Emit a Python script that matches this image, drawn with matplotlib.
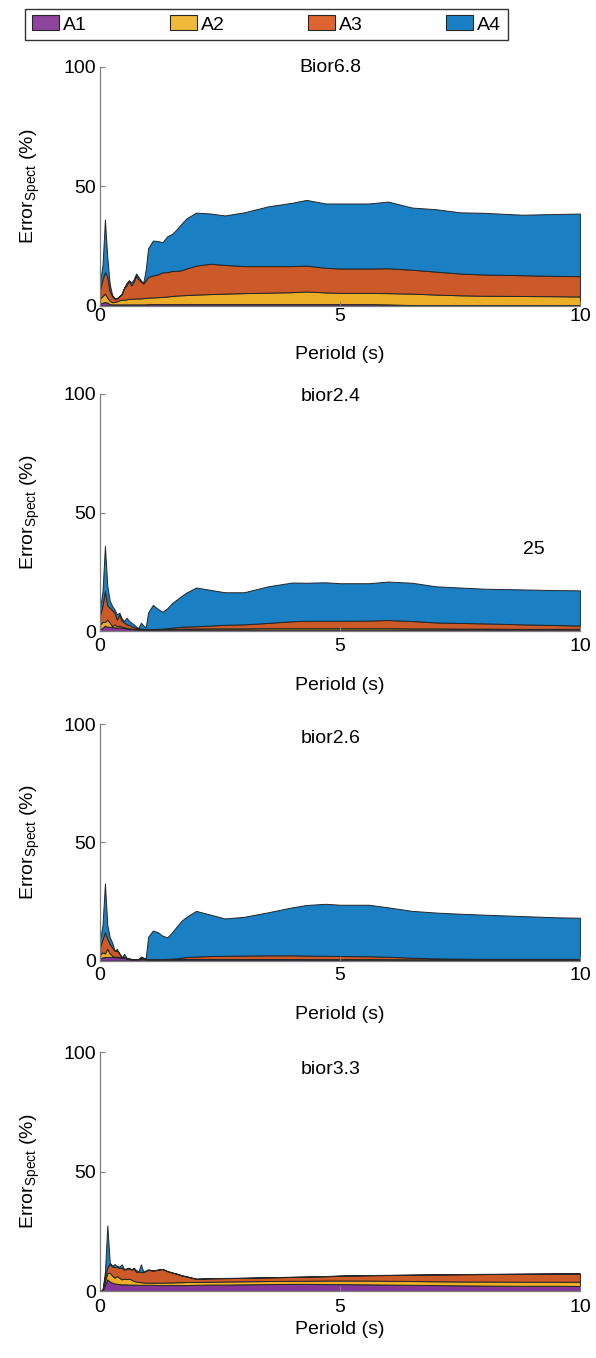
import matplotlib
matplotlib.use('Agg')
import matplotlib.pyplot as plt
from matplotlib.patches import Patch
import numpy as np

plt.rcParams['font.family'] = ['Liberation Sans', 'DejaVu Sans']
plt.rcParams['mathtext.fontset'] = 'custom'
plt.rcParams['mathtext.rm'] = 'Liberation Sans'
plt.rcParams['mathtext.it'] = 'Liberation Sans:italic'

# period axis (s)
period = [0.0, 0.05, 0.1, 0.15, 0.2, 0.25, 0.3, 0.35, 0.4, 0.45,
          0.5, 0.55, 0.6, 0.65, 0.7, 0.75, 0.8, 0.85, 0.9, 0.95,
          1.0, 1.1, 1.2, 1.3, 1.4, 1.5, 1.6, 1.7, 1.8, 2.0,
          2.3, 2.6, 3.0, 3.5, 4.0, 4.3, 4.7, 5.0, 5.6, 6.0,
          6.5, 7.0, 7.5, 8.0, 8.8, 9.5, 10.0]

# upper edge of each stacked band (cumulative %)
# --- Bior6.8
b68_A1 = [0.8, 1.2, 1.5, 1.2, 0.6, 0.5, 0.5, 0.5, 0.5, 0.5,
          0.5, 0.5, 0.5, 0.5, 0.5, 0.5, 0.5, 0.5, 0.5, 0.5,
          0.6, 0.6, 0.6, 0.6, 0.6, 0.6, 0.6, 0.6, 0.6, 0.6,
          0.6, 0.6, 0.6, 0.6, 0.6, 0.6, 0.6, 0.6, 0.6, 0.5,
          0.2, 0.2, 0.2, 0.2, 0.2, 0.2, 0.2]
b68_A2 = [3, 4, 5, 3.3, 2, 1.4, 1.5, 1.8, 2.2, 2.4,
          2.5, 2.6, 2.8, 2.8, 2.9, 3, 3, 3, 3.1, 3.2,
          3.3, 3.4, 3.5, 3.6, 3.8, 4, 4.2, 4.3, 4.4, 4.6,
          4.8, 5, 5.2, 5.4, 5.6, 5.9, 5.5, 5.3, 5.3, 5.2,
          5, 4.6, 4.3, 4.1, 4, 3.9, 3.8]
b68_A3 = [7, 11, 14, 12, 6, 4, 2.8, 3, 3.8, 4.8,
          7.4, 8.5, 10.4, 8.4, 10, 12.6, 11, 10, 9.2, 10.5,
          12, 12.6, 13, 13.9, 14, 14.5, 14.5, 14.8, 15.5, 16.7,
          17.5, 17, 16.5, 16.5, 16.5, 16.7, 15.8, 15.5, 15.5, 15.6,
          15, 14.2, 13.4, 13, 12.7, 12.4, 12.3]
b68_A4 = [10, 17, 36, 20, 9, 4.5, 3, 3.2, 4, 5,
          7.5, 9.5, 10.6, 9.6, 11, 13.4, 12, 10.5, 9.5, 15,
          24, 27.2, 27, 26.5, 29, 30, 32, 34.3, 36.5, 38.9,
          38.5, 37.7, 39, 41.5, 43, 44.2, 42.7, 42.7, 42.7, 43.5,
          41, 40.3, 39, 38.8, 38, 38.3, 38.5]

# --- bior2.4
b24_A1 = [1, 1.5, 2.5, 2, 2, 1.8, 1.8, 1.6, 1.8, 1.5,
          1.5, 1.2, 1.0, 1.0, 0.9, 0.8, 0.8, 0.8, 0.8, 0.8,
          0.8, 0.8, 0.8, 0.8, 0.8, 0.8, 0.8, 0.8, 0.8, 0.8,
          0.8, 0.8, 0.8, 0.8, 0.8, 0.8, 0.8, 0.8, 0.8, 0.8,
          0.8, 0.8, 0.8, 0.8, 0.8, 0.8, 0.8]
b24_A2 = [3, 4, 4, 5, 3.7, 2.2, 3, 2.2, 2.5, 2,
          1.8, 1.5, 1.3, 1.2, 1.1, 1.0, 1.0, 1.0, 0.95, 0.9,
          0.9, 0.9, 0.95, 1.0, 1.0, 1.1, 1.1, 1.2, 1.2, 1.2,
          1.3, 1.3, 1.3, 1.4, 1.4, 1.4, 1.4, 1.4, 1.4, 1.4,
          1.3, 1.3, 1.2, 1.2, 1.1, 1.1, 1.1]
b24_A3 = [7, 11, 17, 11, 10, 9, 7.9, 5, 7.2, 4.5,
          3.8, 3, 2.8, 2.2, 1.8, 1.5, 1.3, 1.2, 1.1, 1.0,
          1.0, 1.0, 1.1, 1.2, 1.4, 1.6, 1.8, 2, 2.1, 2.2,
          2.5, 2.8, 3, 3.6, 4.3, 4.5, 4.5, 4.5, 4.6, 4.8,
          4.4, 3.8, 3.6, 3.4, 3.0, 2.7, 2.5]
b24_A4 = [10, 17, 36, 19, 13, 10.7, 9.3, 7.2, 7.9, 5.5,
          4.4, 5.8, 4.5, 3.7, 3, 2, 1.5, 3.7, 2.5, 1.7,
          8, 11.2, 9.5, 8.3, 9.8, 12, 13.5, 15, 16.4, 18.5,
          17.5, 16.5, 16.5, 19, 20.6, 20.5, 20.7, 20.3, 20.3, 21,
          20.5, 19, 18.5, 18, 17.7, 17.4, 17.3]

# --- bior2.6
b26_A1 = [1, 1.3, 1.5, 1.5, 1.5, 1.5, 1.4, 1.4, 1.3, 1.1,
          1.2, 0.8, 0.6, 0.5, 0.45, 0.45, 0.5, 0.7, 0.7, 0.5,
          0.5, 0.5, 0.5, 0.5, 0.5, 0.5, 0.5, 0.5, 0.5, 0.5,
          0.5, 0.5, 0.5, 0.5, 0.5, 0.5, 0.5, 0.5, 0.5, 0.5,
          0.4, 0.4, 0.4, 0.4, 0.4, 0.4, 0.4]
b26_A2 = [2.5, 3.5, 3, 5, 3, 2, 1.6, 1.6, 1.5, 1.2,
          1.3, 0.9, 0.7, 0.55, 0.5, 0.5, 0.55, 0.8, 0.8, 0.6,
          0.55, 0.55, 0.55, 0.55, 0.6, 0.6, 0.6, 0.6, 0.65, 0.65,
          0.65, 0.65, 0.65, 0.65, 0.65, 0.6, 0.6, 0.6, 0.6, 0.55,
          0.5, 0.5, 0.45, 0.45, 0.45, 0.45, 0.45]
b26_A3 = [6, 9, 12, 9.2, 7, 5.6, 4.2, 4.2, 3, 1.3,
          1.5, 1.0, 0.8, 0.6, 0.55, 0.55, 0.6, 1.2, 1.1, 0.7,
          0.6, 0.6, 0.6, 0.6, 0.7, 0.8, 0.9, 1.2, 1.5, 1.7,
          1.9, 2.0, 2.1, 2.2, 2.2, 2.1, 2.0, 1.9, 1.8, 1.6,
          1.2, 0.9, 0.8, 0.7, 0.7, 0.7, 0.7]
b26_A4 = [9, 15, 32.6, 15, 9.8, 7.7, 4.2, 4.9, 3, 1.4,
          2.8, 1.2, 0.9, 0.7, 0.6, 0.6, 0.7, 1.7, 1.2, 1.0,
          10, 12.7, 12, 10.5, 9.8, 12, 14.5, 16.9, 18.5, 21,
          19.4, 17.8, 18.5, 20.4, 22.5, 23.5, 24, 23.6, 23.6, 22.5,
          21, 20.3, 19.8, 19.4, 18.8, 18.3, 18.1]

# --- bior3.3
b33_A1 = [0, 0.2, 2.5, 4.9, 4, 3.5, 3.2, 3.0, 2.9, 2.8,
          2.8, 2.8, 2.7, 2.7, 2.7, 2.7, 2.6, 2.6, 2.6, 2.6,
          2.6, 2.6, 2.5, 2.5, 2.5, 2.5, 2.5, 2.5, 2.5, 2.6,
          2.7, 2.7, 2.8, 2.9, 3.0, 3.0, 2.9, 2.9, 2.8, 2.7,
          2.6, 2.5, 2.4, 2.3, 2.2, 2.2, 2.1]
b33_A2 = [0, 0.3, 4, 7.5, 7.7, 6.5, 5.6, 6.3, 5.5, 4.9,
          5.2, 5.0, 5.2, 4.8, 4.2, 4.0, 3.8, 3.7, 3.6, 3.5,
          3.5, 3.5, 3.5, 3.5, 3.6, 3.6, 3.7, 3.7, 3.8, 3.8,
          3.9, 4.0, 4.1, 4.2, 4.3, 4.3, 4.4, 4.4, 4.4, 4.3,
          4.2, 4.1, 4.0, 4.0, 3.9, 3.9, 3.9]
b33_A3 = [0, 0.4, 6, 10, 11.4, 10.3, 10, 10.2, 9.6, 9.8,
          9, 9.3, 9.5, 9, 9.3, 8, 8.1, 8.0, 7.9, 8.4,
          8.9, 8.5, 8.9, 9.2, 8.3, 7.7, 7.2, 6.5, 6.1, 5.1,
          5.3, 5.4, 5.5, 5.7, 5.9, 6.0, 6.2, 6.4, 6.6, 6.7,
          6.8, 6.9, 7.0, 7.1, 7.2, 7.3, 7.3]
b33_A4 = [0, 0.5, 8, 27.5, 11.9, 10.6, 11.3, 10.5, 10.2, 11.2,
          9.2, 9.5, 9.8, 9.1, 9.8, 8.8, 8.3, 11.2, 8.1, 8.6,
          9.1, 8.6, 9, 9.3, 8.4, 7.8, 7.3, 6.6, 6.2, 5.2,
          5.4, 5.5, 5.6, 5.8, 6.0, 6.1, 6.3, 6.5, 6.7, 6.8,
          6.9, 7.0, 7.1, 7.2, 7.3, 7.4, 7.4]

titles = ['Bior6.8', 'bior2.4', 'bior2.6', 'bior3.3']
series = [[b68_A1, b68_A2, b68_A3, b68_A4],
          [b24_A1, b24_A2, b24_A3, b24_A4],
          [b26_A1, b26_A2, b26_A3, b26_A4],
          [b33_A1, b33_A2, b33_A3, b33_A4]]
layer_names = ['A1', 'A2', 'A3', 'A4']

fill_colors = ['#84399A', '#EBAE26', '#CC5A29', '#1A7FC3']
legend_colors = ['#8C449C', '#F0B93A', '#DE6430', '#1A80C6']
edge_col = '#262626'

# axes rects (figure fractions)
rects = [[0.168, 0.775, 0.805, 0.176],
         [0.168, 0.535, 0.805, 0.175],
         [0.168, 0.2927, 0.805, 0.174],
         [0.168, 0.0493, 0.805, 0.176]]
title_y = [0.994, 0.987, 0.941, 0.925]
xlabel_y = [-0.169, -0.192, -0.192, -0.126]
xtick_pad = [2.0, 4.5, 4.5, 5.5]

fig = plt.figure(figsize=(5.96, 13.58), dpi=100)

x = np.array(period)
for i in range(4):
    ax = fig.add_axes(rects[i])
    edges = [np.zeros(len(x))] + [np.array(s) for s in series[i]]
    for k in range(4):
        ax.fill_between(x, edges[k], edges[k + 1], facecolor=fill_colors[k],
                        edgecolor=edge_col, linewidth=0.7)

    ax.set_xlim(0, 10)
    ax.set_ylim(0, 100)
    ax.set_xticks([0, 5, 10])
    ax.set_yticks([0, 50, 100])
    for side in ['top', 'right']:
        ax.spines[side].set_visible(False)
    for side in ['left', 'bottom']:
        ax.spines[side].set_color('#7f7f7f')
        ax.spines[side].set_linewidth(0.9)
    ax.tick_params(direction='in', length=3.5, color='#7f7f7f', labelsize=14)
    ax.tick_params(axis='x', pad=xtick_pad[i])
    ax.tick_params(axis='y', pad=3)

    ax.set_xlabel('Periold (s)', fontsize=14)
    ax.xaxis.set_label_coords(0.5, xlabel_y[i])
    ax.set_ylabel(r'Error$_{\mathrm{Spect}}$ (%)', fontsize=14)
    ax.yaxis.set_label_coords(-0.121, 0.5)

    ax.text(0.48, title_y[i], titles[i], transform=ax.transAxes,
            ha='center', va='center', fontsize=14)

    if i == 1:
        ax.text(9.04, 34.7, '25', ha='center', va='center', fontsize=14)

handles = [Patch(facecolor=legend_colors[k], edgecolor=edge_col, linewidth=0.8,
                 label=layer_names[k]) for k in range(4)]
leg = fig.legend(handles=handles, loc='center', ncol=4,
                 bbox_to_anchor=((21 + 512) / 2 / 596, 1 - 24.5 / 1358),
                 fontsize=14, frameon=True, fancybox=False,
                 handlelength=1.39, handleheight=0.77, handletextpad=0.2,
                 columnspacing=4.28, borderpad=0.35)
leg.get_frame().set_edgecolor('black')
leg.get_frame().set_linewidth(1.0)

fig.savefig('out.png', dpi=100)
